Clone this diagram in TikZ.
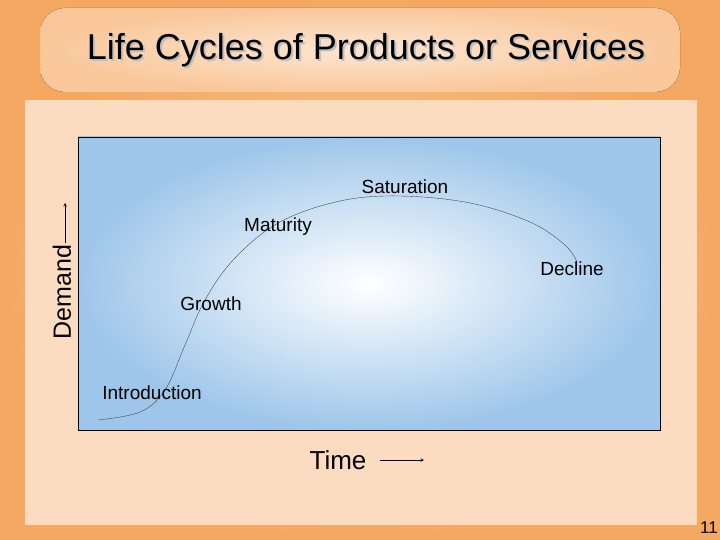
\documentclass[tikz,border=0pt]{standalone}
\usepackage{fontspec}
\setmainfont{Liberation Sans}
\definecolor{org}{HTML}{F5A862}
\definecolor{peach}{HTML}{FCDCC0}
\definecolor{lblue}{HTML}{9EC6EA}
\tikzset{lbl/.style={font=\fontsize{19}{21}\selectfont}, ar/.style={->,>=stealth,semithick}}
\begin{document}
\begin{tikzpicture}[x=1pt,y=-1pt]
\useasboundingbox (0,0) rectangle (720,540);
\fill[inner color=peach!60!org,outer color=org] (0,0) rectangle (720,540);
\fill[peach] (25,100) rectangle (697,525);
\fill[rounded corners=25pt,inner color=peach!70!white,outer color=peach!60!org] (40,8) rectangle (680,92);
\node[text=black!25] at (368,52) {\fontsize{36}{40}\selectfont Life Cycles of Products or Services};
\node (title) at (366,50) {\fontsize{36}{40}\selectfont Life Cycles of Products or Services};
\node[draw=black,inner color=white,outer color=lblue,minimum width=582pt,minimum height=293pt,inner sep=0] (box) at (369,283.5) {};
\draw[black!70] plot[smooth,tension=0.6] coordinates {(98,420) (140,412) (165,390) (185,345) (205,300) (235,258) (280,222) (340,201) (400,196) (470,203) (530,222) (565,245) (577,262)};
\node[lbl] (sat) at (405,187) {Saturation};
\node[lbl] (mat) at (278,227) {Maturity};
\node[lbl] (dec) at (572,269) {Decline};
\node[lbl] (gro) at (211,304) {Growth};
\node[lbl] (intro) at (152,393) {Introduction};
\node[rotate=90,font=\fontsize{25}{27}\selectfont] (dem) at (62,292) {Demand};
\coordinate (dtop) at (65,203);
\draw[ar] (65,243) -- (dtop);
\node[font=\fontsize{26}{28}\selectfont] (time) at (338,460) {Time};
\coordinate (tend) at (424,460);
\draw[ar] (380,460) -- (tend);
\node[font=\fontsize{17}{19}\selectfont] (num) at (709,528) {11};
\end{tikzpicture}
\end{document}
